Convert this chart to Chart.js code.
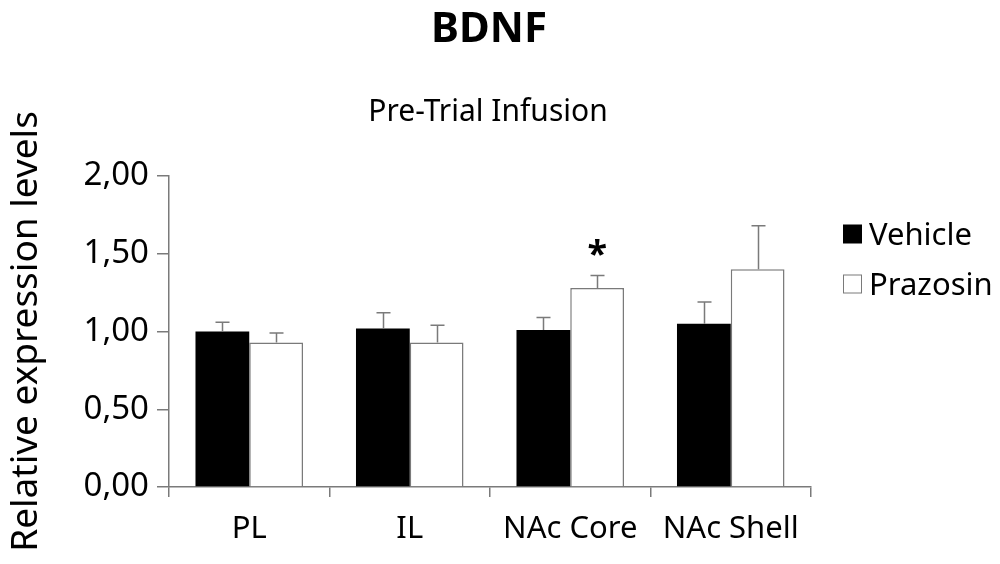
<!DOCTYPE html>
<html>
<head>
<meta charset="utf-8">
<script src="https://cdn.jsdelivr.net/npm/chart.js@4"></script>
<style>
  html, body { margin: 0; padding: 0; background: #fff; }
  #wrap { width: 1000px; height: 564px; position: relative; }
</style>
</head>
<body>
<div id="wrap"><canvas id="chart"></canvas></div>
<script>
// values
const regions = ["PL", "IL", "NAc Core", "NAc Shell"];
const vehicle = [1.00, 1.02, 1.01, 1.05];
const vehicleErr = [0.06, 0.10, 0.08, 0.14];
const prazosin = [0.93, 0.93, 1.28, 1.40];
const prazosinErr = [0.06, 0.11, 0.08, 0.28];
const yTicks = [0, 0.5, 1, 1.5, 2];
const starred = [{ dataset: 1, index: 2 }]; // NAc Core, Prazosin

const grey = "#7a7a7a";
const font = "'Noto Sans', sans-serif";

// titles, legend, error bars and the asterisk
const extras = {
    id: "extras",
    afterDatasetsDraw(chart) {
        const ctx = chart.ctx;
        const y = chart.scales.y;
        const errs = [vehicleErr, prazosinErr];

        ctx.save();
        ctx.strokeStyle = grey;
        ctx.lineWidth = 1.5;
        chart.data.datasets.forEach((ds, d) => {
            chart.getDatasetMeta(d).data.forEach((bar, i) => {
                const top = y.getPixelForValue(ds.data[i] + errs[d][i]);
                const cx = Math.round(bar.x) + 0.5;
                ctx.beginPath();
                ctx.moveTo(cx, bar.y);
                ctx.lineTo(cx, top);
                ctx.moveTo(cx - 7, top);
                ctx.lineTo(cx + 7, top);
                ctx.stroke();
            });
        });

        ctx.fillStyle = "#000";
        ctx.textAlign = "center";
        ctx.textBaseline = "middle";
        ctx.font = "bold 36px " + font;
        starred.forEach(s => {
            const bar = chart.getDatasetMeta(s.dataset).data[s.index];
            const v = chart.data.datasets[s.dataset].data[s.index] + errs[s.dataset][s.index];
            ctx.fillText("*", bar.x, y.getPixelForValue(v) - 20);
        });

        // titles
        ctx.font = "bold 42px " + font;
        ctx.fillText("BDNF", 489, 30);
        ctx.font = "30px " + font;
        ctx.fillText("Pre-Trial Infusion", 488, 112);

        // legend
        ctx.textAlign = "left";
        ctx.font = "31px " + font;
        chart.data.datasets.forEach((ds, d) => {
            const cy = 234 + d * 50;
            ctx.fillStyle = ds.backgroundColor;
            ctx.fillRect(843, cy - 9.5, 19, 19);
            if (ds.backgroundColor !== "#000000") {
                ctx.strokeStyle = grey;
                ctx.lineWidth = 1;
                ctx.strokeRect(843.5, cy - 9, 18, 18);
            }
            ctx.fillStyle = "#000";
            ctx.fillText(ds.label, 869, cy + 2);
        });
        ctx.restore();
    }
};

new Chart(document.getElementById("chart"), {
    type: "bar",
    data: {
        labels: regions,
        datasets: [
            {
                label: "Vehicle",
                data: vehicle,
                backgroundColor: "#000000",
                borderColor: "#000000",
                borderWidth: 0
            },
            {
                label: "Prazosin",
                data: prazosin,
                backgroundColor: "#ffffff",
                borderColor: grey,
                borderWidth: 1.5
            }
        ]
    },
    options: {
        responsive: true,
        maintainAspectRatio: false,
        animation: false,
        categoryPercentage: 0.67,
        barPercentage: 1.0,
        layout: { padding: { top: 176, right: 189, left: 0, bottom: 0 } },
        plugins: {
            legend: { display: false },
            title: { display: false },
            tooltip: { enabled: false }
        },
        scales: {
            x: {
                grid: {
                    offset: true,
                    drawOnChartArea: false,
                    color: grey,
                    lineWidth: 1.5,
                    tickLength: 10
                },
                border: { color: grey, width: 1.5 },
                ticks: {
                    color: "#000",
                    font: { family: font, size: 31 },
                    padding: 14,
                    maxRotation: 0
                },
                afterFit(scale) { scale.height = 77; }
            },
            y: {
                min: 0,
                max: 2,
                afterBuildTicks(scale) { scale.ticks = yTicks.map(v => ({ value: v })); },
                grid: {
                    drawOnChartArea: false,
                    color: grey,
                    lineWidth: 1.5,
                    tickLength: 12
                },
                border: { color: grey, width: 1.5 },
                ticks: {
                    color: "#000",
                    font: { family: font, size: 33 },
                    padding: 8,
                    callback: v => v.toFixed(2).replace(".", ",")
                },
                title: {
                    display: true,
                    text: "Relative expression levels",
                    color: "#000",
                    font: { family: font, size: 37 },
                    padding: { top: 4, bottom: 0 }
                },
                afterFit(scale) { scale.width = 169; }
            }
        }
    },
    plugins: [extras]
});
</script>
</body>
</html>
